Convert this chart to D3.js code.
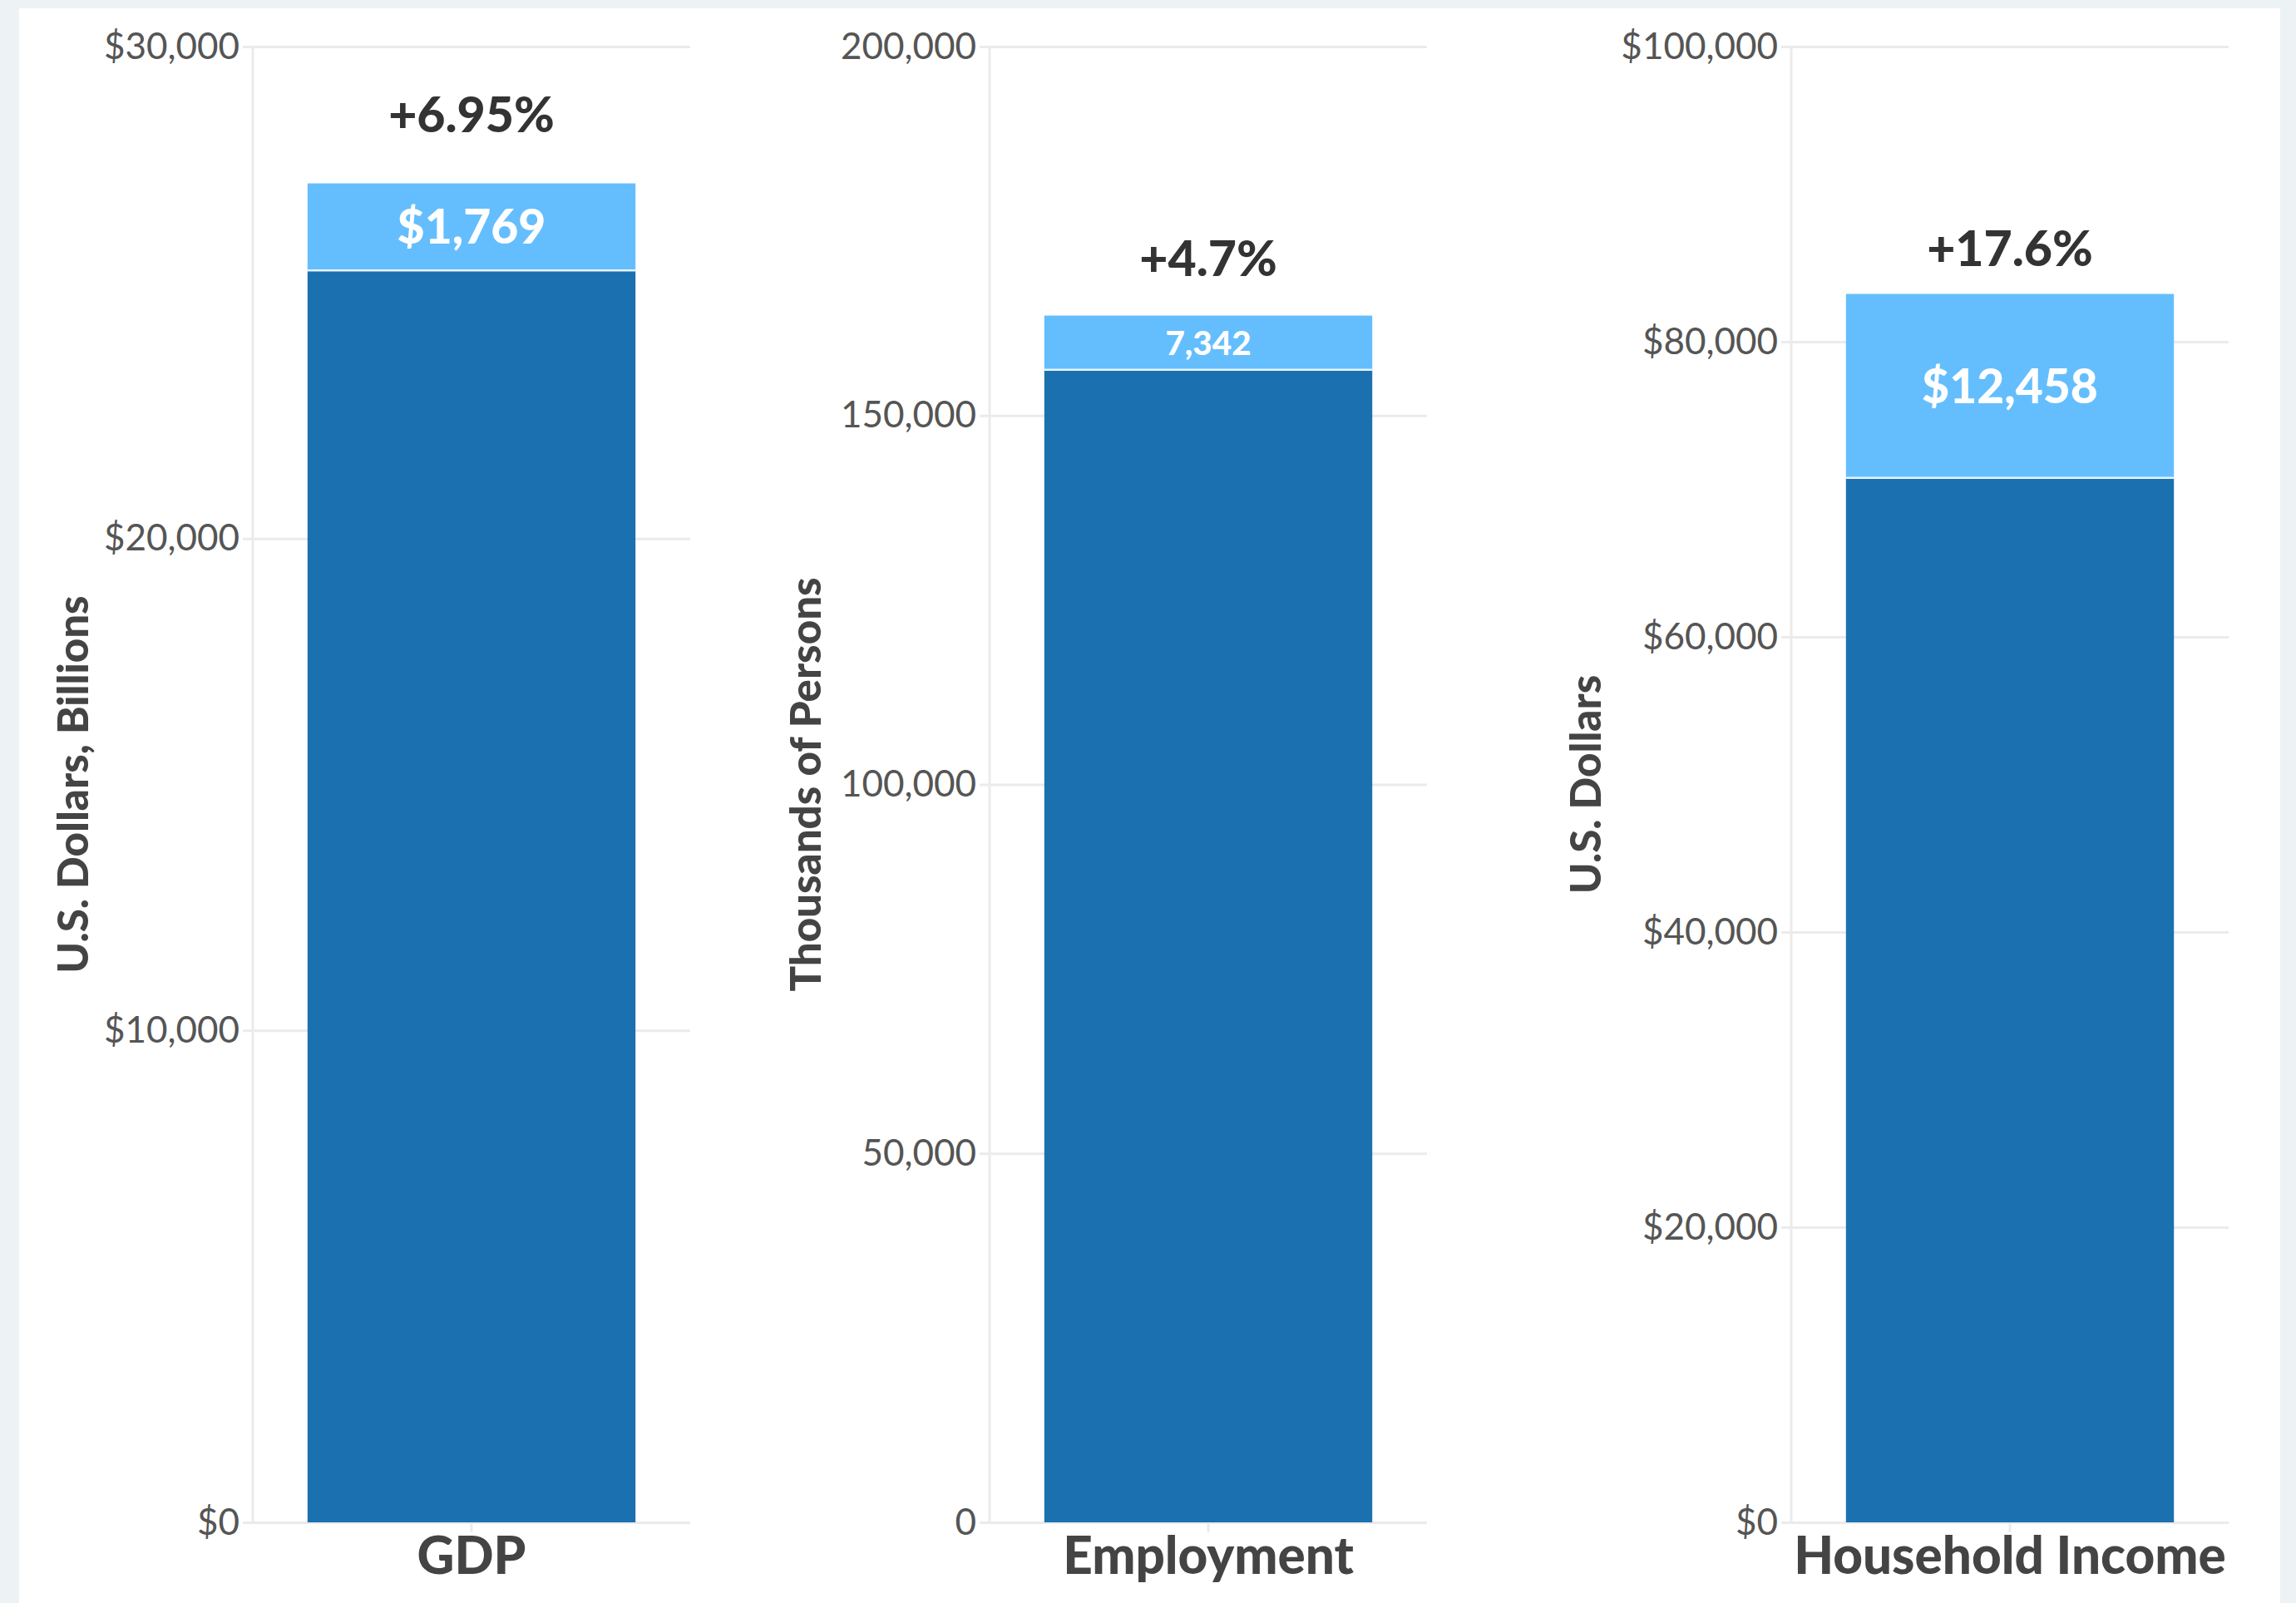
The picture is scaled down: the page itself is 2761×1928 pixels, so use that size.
<!DOCTYPE html>
<meta charset="utf-8">
<style>
body { margin: 0; background: #edf2f5; }
svg { display: block; font-family: Lato, "Open Sans", sans-serif; }
.axis { font-family: Lato, "Open Sans", sans-serif; }
.axis .domain { display: none; }
.axis line { stroke: #ebebeb; stroke-width: 3; }
.yaxis text { fill: #555; font-size: 44px; }
.xaxis text { fill: #444; font-size: 62px; font-weight: 900; }
</style>
<svg width="2761" height="1928"></svg>
<script src="https://d3js.org/d3.v7.min.js"></script>
<script>

var categories = ["GDP", "Employment", "Household Income"];
var baseValues = [25450, 156200, 70780];
var increases = [1769, 7342, 12458];
var pctChange = ["+6.95%", "+4.7%", "+17.6%"];
var axisTitles = ["U.S. Dollars, Billions", "Thousands of Persons", "U.S. Dollars"];
var axisMax = [30000, 200000, 100000];
var tickStep = [10000, 50000, 20000];
var valuePrefix = ["$", "", "$"];

var svg = d3.select("svg");

// white card
svg.append("rect")
    .attr("x", 23).attr("y", 10)
    .attr("width", 2719).attr("height", 1940)
    .attr("fill", "#fff");

var panelLeft = [304, 1190, 2154],
    panelWidth = 526,
    plotTop = 56,
    plotBottom = 1831,
    titleOffset = [216, 221, 247],
    pctOffset = [83, 69, 55];

categories.forEach(function(cat, i) {
  var g = svg.append("g").attr("transform", "translate(" + panelLeft[i] + ",0)");

  var y = d3.scaleLinear()
      .domain([0, axisMax[i]])
      .range([plotBottom, plotTop]);

  var x = d3.scaleBand()
      .domain([cat])
      .range([0, panelWidth])
      .padding(0.143);

  var fmt = d3.format(valuePrefix[i] ? "$," : ",");

  var yAxis = g.append("g")
      .attr("class", "axis yaxis")
      .call(d3.axisLeft(y)
        .tickValues(d3.range(0, axisMax[i] + 1, tickStep[i]))
        .tickFormat(fmt));
  yAxis.selectAll(".tick line").attr("x1", -12).attr("x2", panelWidth);
  yAxis.selectAll(".tick text").attr("x", -16);

  g.append("line")
      .attr("x1", 0).attr("x2", 0)
      .attr("y1", plotTop).attr("y2", plotBottom)
      .attr("stroke", "#ebebeb")
      .attr("stroke-width", 3);

  g.append("text")
      .attr("transform", "translate(" + (-titleOffset[i]) + "," + ((plotTop + plotBottom) / 2) + ") rotate(-90)")
      .attr("text-anchor", "middle")
      .attr("dy", "0.35em")
      .attr("fill", "#444")
      .attr("font-size", 51)
      .attr("font-weight", 900)
      .text(axisTitles[i]);

  var total = baseValues[i] + increases[i];

  g.append("rect")
      .attr("x", x(cat))
      .attr("y", y(baseValues[i]))
      .attr("width", x.bandwidth())
      .attr("height", y(0) - y(baseValues[i]))
      .attr("fill", "#1b71b0");

  g.append("rect")
      .attr("x", x(cat))
      .attr("y", y(total))
      .attr("width", x.bandwidth())
      .attr("height", y(baseValues[i]) - y(total))
      .attr("fill", "#64befd");

  g.append("line")
      .attr("x1", x(cat)).attr("x2", x(cat) + x.bandwidth())
      .attr("y1", y(baseValues[i])).attr("y2", y(baseValues[i]))
      .attr("stroke", "#e8f4ff")
      .attr("stroke-width", 2.5);

  var segH = y(baseValues[i]) - y(total);
  g.append("text")
      .attr("x", x(cat) + x.bandwidth() / 2)
      .attr("y", (y(total) + y(baseValues[i])) / 2)
      .attr("dy", "0.36em")
      .attr("text-anchor", "middle")
      .attr("fill", "#fff")
      .attr("font-size", Math.min(57, segH * 0.62))
      .attr("font-weight", 900)
      .text(valuePrefix[i] + d3.format(",")(increases[i]));

  g.append("text")
      .attr("x", x(cat) + x.bandwidth() / 2)
      .attr("y", y(total) - pctOffset[i])
      .attr("dy", "0.36em")
      .attr("text-anchor", "middle")
      .attr("fill", "#333")
      .attr("font-size", 59)
      .attr("font-weight", 900)
      .text(pctChange[i]);

  g.append("g")
      .attr("class", "axis xaxis")
      .attr("transform", "translate(0," + plotBottom + ")")
      .call(d3.axisBottom(x).tickSize(12).tickPadding(6));
});

</script>
